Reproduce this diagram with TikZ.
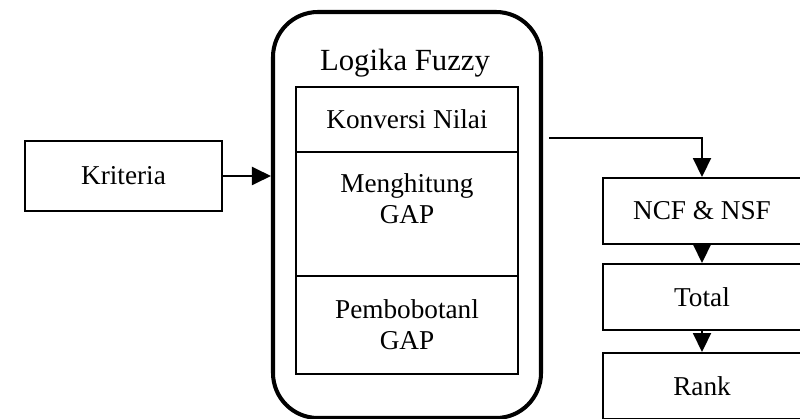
\documentclass[tikz,border=0pt]{standalone}
\usepackage{fontspec}
\setmainfont{Liberation Serif}
\usetikzlibrary{arrows.meta,positioning,calc}

\begin{document}
\begin{tikzpicture}[
  outer/.style={draw=black, line width=2.3pt, rounded corners=9mm,
                minimum width=53.6mm, minimum height=81.2mm},
  inbox/.style={draw=black, line width=1.1pt, minimum width=44.4mm,
                font=\fontsize{15.5}{17.5}\selectfont, align=center},
  sidebox/.style={draw=black, line width=1.1pt, minimum width=39.6mm,
                  minimum height=13.2mm, font=\fontsize{15.5}{17.5}\selectfont},
  txt/.style={font=\fontsize{15.5}{17.5}\selectfont, align=center},
  arr/.style={-{Triangle[length=3.8mm, width=3.6mm]}, line width=1.1pt},
]
\useasboundingbox (0,0) rectangle (16,-8.38);
\clip (0,0) rectangle (16,-8.38);

%% ---- Blok Logika Fuzzy ----
\node[outer] (fuzzy) at (8.14,-4.30) {};
\node[font=\fontsize{17.5}{20}\selectfont] (judul) at (8.1,-1.26) {Logika Fuzzy};

\node[inbox, minimum height=13mm]   (konversi) at (8.14,-2.39) {Konversi Nilai};
\node[inbox, minimum height=24.8mm] (hitung)   at (8.14,-4.28) {};
\node[txt, below=3.3mm of hitung.north] (hitungtxt) {Menghitung\\GAP};
\node[inbox, minimum height=19.6mm] (bobot)    at (8.14,-6.50) {Pembobotanl\\GAP};

%% ---- Masukan ----
\node[draw=black, line width=1.1pt, minimum width=39.4mm, minimum height=14mm,
      font=\fontsize{15.5}{17.5}\selectfont] (kriteria) at (2.47,-3.52) {Kriteria};
\draw[arr] (kriteria.east) -- (kriteria.east -| fuzzy.west);

%% ---- Keluaran ----
\node[sidebox] (ncf)   at (14.04,-4.22) {NCF \& NSF};
\node[sidebox] (total) at (14.04,-5.94) {Total};
\node[sidebox] (rank)  at (14.04,-7.72) {Rank};

\draw[arr] ($(fuzzy.north east)+(0.12,-2.56)$) -| (ncf.north);
\draw[arr] (ncf.south) -- (total.north);
\draw[arr] (total.south) -- (rank.north);

\end{tikzpicture}
\end{document}
